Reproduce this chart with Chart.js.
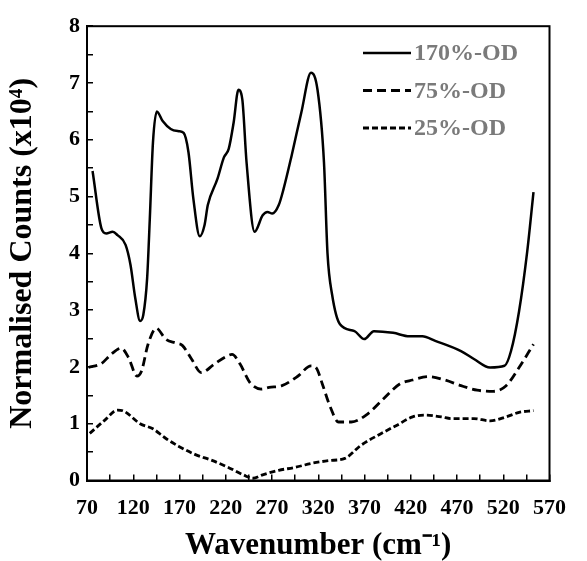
<!DOCTYPE html>
<html>
<head>
<meta charset="utf-8">
<script src="https://cdn.jsdelivr.net/npm/chart.js@4"></script>
<style>
  body { margin: 0; background: #fff; }
</style>
</head>
<body>
<canvas id="spectra" width="587" height="561"></canvas>
<script>
const seriesNames = ['170%-OD', '75%-OD', '25%-OD'];

const od170X = [76, 85.6, 90.8, 97.7, 103, 111.7, 117, 122.2, 127.4, 130.9, 135, 137.9, 141.3, 145.5, 151.8, 160.5, 169.3, 174.5, 179.7, 185, 191.9, 197.1, 200.6, 211, 218, 223.2, 228.5, 233.7, 237.9, 242.5, 251.2, 259.9, 265.1, 270.3, 277.3, 282.6, 291.2, 301.7, 312.2, 319.2, 326.2, 330, 335, 343.5, 359.2, 369.7, 380.2, 401, 418.5, 432.5, 446.5, 474.3, 488.3, 505.7, 521.4, 528.4, 537.1, 545.9, 552.7];
const od170Y = [5.45, 4.44, 4.35, 4.38, 4.32, 4.15, 3.8, 3.21, 2.81, 2.92, 3.56, 4.61, 5.95, 6.5, 6.33, 6.19, 6.15, 6.12, 5.78, 4.96, 4.3, 4.5, 4.85, 5.31, 5.69, 5.84, 6.3, 6.88, 6.71, 5.6, 4.38, 4.67, 4.73, 4.7, 4.85, 5.14, 5.72, 6.48, 7.18, 6.88, 5.6, 4.0, 3.27, 2.75, 2.63, 2.49, 2.63, 2.6, 2.54, 2.54, 2.46, 2.28, 2.14, 1.99, 2.02, 2.28, 2.98, 4.03, 5.08];

const od75X = [71.6, 85.6, 96, 107, 115, 124, 129, 136, 145, 155, 166, 173, 183, 193.6, 207.6, 220, 226.8, 235.5, 245.9, 258.2, 266.9, 280.8, 298.2, 312.2, 318, 324.4, 333.1, 341.9, 355.8, 373.2, 390.6, 408.1, 422, 439.5, 456.9, 474.3, 491.8, 509.2, 523.1, 537.1, 552.7];
const od75Y = [1.99, 2.06, 2.22, 2.33, 2.16, 1.84, 1.93, 2.4, 2.68, 2.49, 2.42, 2.38, 2.14, 1.9, 2.05, 2.18, 2.22, 2.05, 1.73, 1.61, 1.64, 1.67, 1.84, 2.02, 1.98, 1.7, 1.29, 1.03, 1.03, 1.17, 1.44, 1.7, 1.77, 1.83, 1.77, 1.67, 1.59, 1.57, 1.67, 1.99, 2.4];

const od25X = [73, 89, 103, 110, 127.4, 141.3, 155.3, 169.3, 186.6, 204.1, 221.6, 238.9, 249.4, 259.9, 277.3, 294.8, 312.2, 331.4, 348.8, 366.2, 387.2, 404.6, 422, 436, 453.4, 463.8, 488.3, 505.7, 523.1, 537.1, 552.7];
const od25Y = [0.83, 1.06, 1.24, 1.22, 1.0, 0.91, 0.74, 0.6, 0.46, 0.36, 0.24, 0.1, 0.04, 0.1, 0.18, 0.23, 0.3, 0.35, 0.39, 0.62, 0.82, 0.97, 1.12, 1.15, 1.12, 1.09, 1.09, 1.05, 1.12, 1.2, 1.23];

const xLabelTicks = [70, 120, 170, 220, 270, 320, 370, 420, 470, 520, 570];
const yLabelTicks = [0, 1, 2, 3, 4, 5, 6, 7, 8];

const toPoints = (xs, ys) => xs.map((x, i) => ({ x: x, y: ys[i] }));

const serif = '"Liberation Serif", "Times New Roman", serif';

// frame around the plot area
const frame = {
    id: 'frame',
    afterDatasetsDraw(chart) {
        const a = chart.chartArea;
        const ctx = chart.ctx;
        ctx.save();
        ctx.strokeStyle = '#000';
        ctx.lineWidth = 2;
        ctx.strokeRect(a.left, a.top, a.right - a.left, a.bottom - a.top);
        ctx.restore();
    }
};

// legend drawn inside the plot, top right
const insideLegend = {
    id: 'insideLegend',
    afterDraw(chart) {
        const ctx = chart.ctx;
        ctx.save();
        chart.data.datasets.forEach((ds, i) => {
            const y = 53 + i * 37.5;
            ctx.strokeStyle = '#000';
            ctx.lineWidth = ds.borderWidth;
            ctx.setLineDash(ds.borderDash || []);
            ctx.beginPath();
            ctx.moveTo(363, y);
            ctx.lineTo(411, y);
            ctx.stroke();
            ctx.setLineDash([]);
            ctx.fillStyle = '#7a7a7a';
            ctx.font = 'bold 24px ' + serif;
            ctx.textBaseline = 'middle';
            ctx.fillText(ds.label, 414, y + 1);
        });
        ctx.restore();
    }
};

const ctx = document.getElementById('spectra').getContext('2d');
new Chart(ctx, {
    type: 'line',
    data: {
        datasets: [
            { label: seriesNames[0], data: toPoints(od170X, od170Y), borderColor: '#000', borderWidth: 2.5, borderDash: [], pointRadius: 0, cubicInterpolationMode: 'monotone' },
            { label: seriesNames[1], data: toPoints(od75X, od75Y), borderColor: '#000', borderWidth: 2.8, borderDash: [9, 5], pointRadius: 0, cubicInterpolationMode: 'monotone' },
            { label: seriesNames[2], data: toPoints(od25X, od25Y), borderColor: '#000', borderWidth: 2.8, borderDash: [6, 3], pointRadius: 0, cubicInterpolationMode: 'monotone' }
        ]
    },
    options: {
        responsive: false,
        animation: false,
        layout: { padding: { top: 23, right: 19, left: 0, bottom: 0 } },
        plugins: { legend: { display: false }, tooltip: { enabled: false } },
        scales: {
            x: {
                type: 'linear',
                min: 70,
                max: 570,
                afterFit(scale) { scale.height = 80.5; },
                border: { display: true, color: '#000', width: 2 },
                grid: { drawOnChartArea: false, drawTicks: true, tickLength: -6, color: '#000', lineWidth: 1.5 },
                ticks: {
                    stepSize: 25,
                    autoSkip: false,
                    maxRotation: 0,
                    padding: 21,
                    color: '#000',
                    font: { family: serif, size: 22, weight: 'bold' },
                    callback: (v) => xLabelTicks.includes(v) ? String(v) : ''
                },
                title: {
                    display: true,
                    text: 'Wavenumber (cm\u207B\u00B9)',
                    color: '#000',
                    font: { family: serif, size: 31, weight: 'bold', lineHeight: 1 },
                    padding: { top: 0, bottom: 0 }
                }
            },
            y: {
                min: 0,
                max: 8,
                afterFit(scale) { scale.width = 87; },
                border: { display: true, color: '#000', width: 2 },
                grid: { drawOnChartArea: false, drawTicks: true, tickLength: -6, color: '#000', lineWidth: 1.5 },
                ticks: {
                    stepSize: 0.5,
                    autoSkip: false,
                    padding: 13,
                    color: '#000',
                    font: { family: serif, size: 22, weight: 'bold' },
                    callback: (v) => yLabelTicks.includes(v) ? String(v) : ''
                },
                title: {
                    display: true,
                    text: 'Normalised Counts (x10\u2074)',
                    color: '#000',
                    font: { family: serif, size: 32, weight: 'bold', lineHeight: 1 },
                    padding: { top: 7, bottom: 0 }
                }
            }
        }
    },
    plugins: [frame, insideLegend]
});
</script>
</body>
</html>
